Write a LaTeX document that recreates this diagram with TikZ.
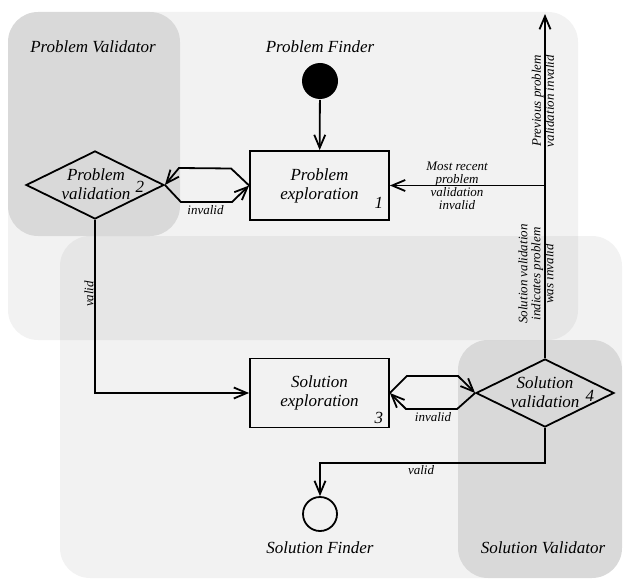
\documentclass[tikz,border=0pt]{standalone}
\usepackage{fontspec}
\setmainfont{Liberation Serif}
\usetikzlibrary{shapes.geometric,arrows.meta}
\tikzset{every picture/.style={line width=1.8pt}}
\tikzset{
  lane/.style={draw=none,fill=black,fill opacity=0.05,rounded corners=30pt},
  lanedark/.style={draw=none,fill=black,fill opacity=0.1,rounded corners=30pt},
  bigtext/.style={inner sep=0pt,align=center,font=\fontsize{17}{19}\selectfont\itshape},
  smalltext/.style={inner sep=0pt,align=center,font=\fontsize{13}{13}\selectfont\itshape},
  activity/.style={draw,rectangle,minimum width=139pt,minimum height=69pt,inner sep=0pt,align=center,font=\fontsize{17}{19}\selectfont\itshape},
  decision/.style={draw,diamond,minimum width=138pt,minimum height=68pt,inner sep=0pt},
  flow/.style={-{Straight Barb[length=13pt,width=11pt]}}
}

\begin{document}
\begin{tikzpicture}[x=1pt,y=1pt,yscale=-1,xscale=1]
\useasboundingbox (0,0) rectangle (623,580);
% swim lanes
\fill[lane] (8,12) rectangle (578,340);
\fill[lanedark] (8,12) rectangle (180,236);
\fill[lane] (60,236) rectangle (622,578);
\fill[lanedark] (458,340) rectangle (622,578);
\draw (320,47) node [bigtext] (pfinderlbl) {Problem Finder};
\draw (93,47) node [bigtext] (pvalidlbl) {Problem Validator};
\draw (320,548) node [bigtext] (sfinderlbl) {Solution Finder};
\draw (543,548) node [bigtext] (svalidlbl) {Solution Validator};
% nodes
\node [circle,fill,minimum size=36pt,inner sep=0pt] (start) at (320,81) {};
\node [activity] (pexp) at (319.5,185.5) {Problem\\exploration};
\node [decision] (pval) at (95,185) {};
\node [bigtext] (pvaltext) at (96,184) {Problem\\validation};
\node [activity] (sexp) at (319.5,393) {Solution\\exploration};
\node [decision] (sval) at (545,393) {};
\node [bigtext] (svaltext) at (545,392) {Solution\\validation};
\node [circle,draw,minimum size=34pt,inner sep=0pt] (stop) at (320,514) {};
\node [bigtext,anchor=base east] (n1) at (384,208) {1};
\node [bigtext,anchor=base east] (n2) at (145,192) {2};
\node [bigtext,anchor=base east] (n3) at (384,423) {3};
\node [bigtext,anchor=base east] (n4) at (595,401) {4};
% connectors
\coordinate (top) at (545,14);
\coordinate (junc) at (sval.north |- pexp.east);
\draw [flow] (start) -- (pexp);
\draw [flow] (pexp.west) -- ++(-18,-17) -- (179,168) -- (pval.east);
\draw [flow] (pval.east) -- ++(16,17) -- (232,202) -- (pexp.west);
\draw [flow] (sexp.east) -- ++(17,-17) -- (458,376) -- (sval.west);
\draw [flow] (sval.west) -- ++(-18,16) -- (406,409) -- (sexp.east);
\draw [flow] (sval.north) -- (top);
\draw [flow] (junc) -- (pexp.east);
\draw [flow] (pval.south) |- (sexp.west);
\draw [flow] (sval.south) -- ++(0,35) -| (stop.north);
% labels
\node [smalltext] (inv1) at (205.5,210) {invalid};
\node [smalltext] (inv2) at (433,417) {invalid};
\node [smalltext,rotate=90] (valid1) at (89,294) {valid};
\node [smalltext] (valid2) at (421,470) {valid};
\node [smalltext] (recent) at (457,186) {Most recent\\problem\\validation\\invalid};
\node [smalltext,rotate=90] (previous) at (543,101) {Previous problem\\validation invalid};
\node [smalltext,rotate=90] (indicates) at (536,274) {Solution validation\\indicates problem\\was invalid};
\end{tikzpicture}
\end{document}
